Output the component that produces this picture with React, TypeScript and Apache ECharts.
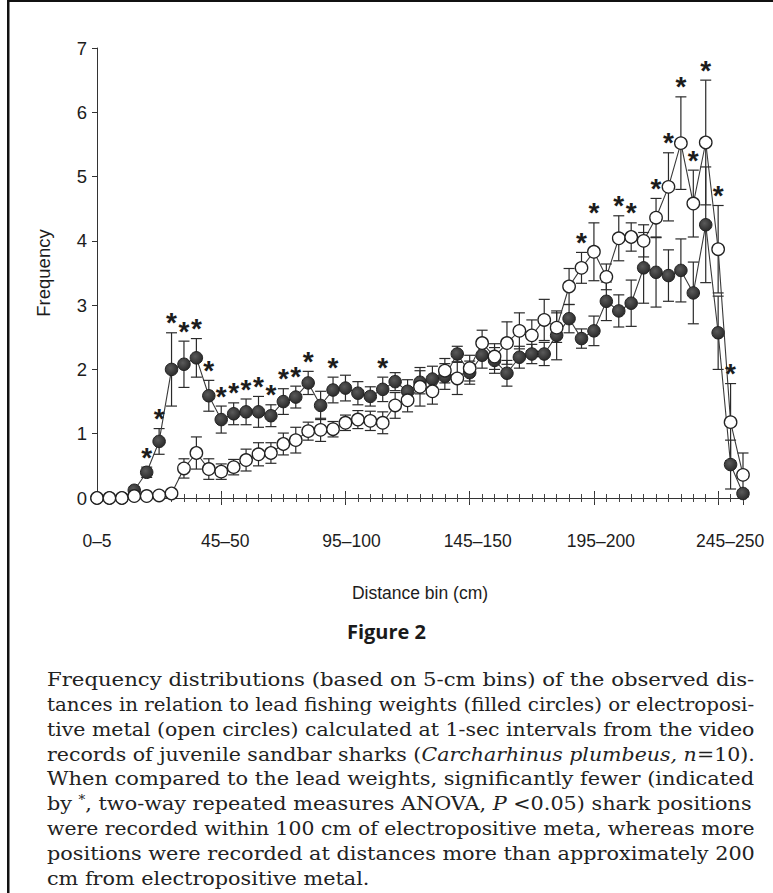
import React, { useEffect, useRef } from "react";
import * as echarts from "echarts";

// 5-cm distance bins, indexed 0 (0–5 cm) … 52 (260–265 cm)
const xTickValues = [0, 10, 20, 30, 40, 50];
const xTickLabels = ["0–5", "45–50", "95–100", "145–150", "195–200", "245–250"];

// Mean frequency per bin: lead fishing weights (filled circles)
const leadMean = [
  0, 0, 0, 0.12, 0.4, 0.88, 2.0, 2.08, 2.18, 1.59,
  1.22, 1.31, 1.34, 1.34, 1.28, 1.5, 1.57, 1.79, 1.44, 1.68,
  1.71, 1.63, 1.58, 1.69, 1.81, 1.66, 1.8, 1.85, 1.89, 2.24,
  1.95, 2.22, 2.14, 1.94, 2.19, 2.24, 2.24, 2.53, 2.79, 2.48,
  2.6, 3.06, 2.91, 3.03, 3.58, 3.51, 3.46, 3.54, 3.19, 4.25,
  2.57, 0.52, 0.07,
];
const leadSE = [
  0, 0, 0, 0.05, 0.08, 0.2, 0.57, 0.36, 0.3, 0.24,
  0.21, 0.17, 0.2, 0.24, 0.17, 0.2, 0.17, 0.18, 0.22, 0.2,
  0.2, 0.18, 0.15, 0.19, 0.14, 0.18, 0.18, 0.2, 0.2, 0.12,
  0.18, 0.2, 0.2, 0.2, 0.17, 0.15, 0.18, 0.38, 0.22, 0.15,
  0.23, 0.3, 0.25, 0.36, 0.55, 0.54, 0.4, 0.49, 0.48, 0.9,
  0.57, 0.38, 0.05,
];

// Mean frequency per bin: electropositive metal (open circles)
const metalMean = [
  0, 0, 0, 0.03, 0.03, 0.04, 0.07, 0.46, 0.7, 0.45,
  0.41, 0.48, 0.59, 0.68, 0.7, 0.84, 0.9, 1.04, 1.06, 1.07,
  1.17, 1.22, 1.2, 1.17, 1.44, 1.52, 1.73, 1.66, 1.98, 1.86,
  2.02, 2.41, 2.2, 2.41, 2.6, 2.53, 2.77, 2.65, 3.29, 3.58,
  3.83, 3.44, 4.04, 4.06, 4.0, 4.36, 4.84, 5.52, 4.58, 5.53,
  3.87, 1.18, 0.36,
];
const metalSE = [
  0, 0, 0, 0.02, 0.02, 0.03, 0.04, 0.15, 0.25, 0.16,
  0.12, 0.12, 0.17, 0.18, 0.16, 0.17, 0.2, 0.14, 0.18, 0.12,
  0.12, 0.14, 0.15, 0.17, 0.2, 0.18, 0.3, 0.2, 0.19, 0.25,
  0.2, 0.2, 0.2, 0.33, 0.28, 0.24, 0.32, 0.23, 0.28, 0.24,
  0.45, 0.2, 0.35, 0.22, 0.25, 0.3, 0.53, 0.72, 0.52, 0.97,
  0.68, 0.6, 0.34,
];

// Bins with a significant difference (marked *)
const significantBins = [
  4, 5, 6, 7, 8, 9, 10, 11, 12, 13, 14, 15, 16, 17, 19, 23,
  39, 40, 42, 43, 45, 46, 47, 48, 49, 50, 51,
];

const yTicks = { min: 0, max: 7, interval: 1 };

const INK = "#1c1c1c";
const SANS = "Liberation Sans, Arial, sans-serif";
const SERIF_FAMILY = "DejaVu Serif";
const CAPTION_SIZE = 18.5;

// Rightward nudge (px) of each bin label relative to its major tick
const labelNudge = [0, 4, 6, 8, 7, 12];

const captionLines = [
  "Frequency distributions (based on 5-cm bins) of the observed dis-",
  "tances in relation to lead fishing weights (filled circles) or electroposi-",
  "tive metal (open circles) calculated at 1-sec intervals from the video",
  "records of juvenile sandbar sharks ({i|Carcharhinus plumbeus, n}=10).",
  "When compared to the lead weights, significantly fewer (indicated",
  "by {sup|*}, two-way repeated measures ANOVA, {i|P} <0.05) shark positions",
  "were recorded within 100 cm of electropositive meta, whereas more",
  "positions were recorded at distances more than approximately 200",
  "cm from electropositive metal.",
];

function errorBarItem(params: any, api: any) {
  const x = api.value(0);
  const m = api.value(1);
  const se = api.value(2);
  if (!(se > 0)) return { type: "group", children: [] };
  const top = api.coord([x, m + se]);
  const bot = api.coord([x, Math.max(0, m - se)]);
  const hw = 5.5;
  const st = { stroke: "#2a2a2a", lineWidth: 1.2 };
  return {
    type: "group",
    children: [
      { type: "line", shape: { x1: top[0], y1: top[1], x2: bot[0], y2: bot[1] }, style: st },
      { type: "line", shape: { x1: top[0] - hw, y1: top[1], x2: top[0] + hw, y2: top[1] }, style: st },
      { type: "line", shape: { x1: bot[0] - hw, y1: bot[1], x2: bot[0] + hw, y2: bot[1] }, style: st },
    ],
  };
}

function starItem(params: any, api: any) {
  const p = api.coord([api.value(0), api.value(1)]);
  return {
    type: "text",
    x: p[0],
    y: p[1] - 24,
    style: {
      text: "*",
      fill: INK,
      font: `bold 28px ${SANS}`,
      textAlign: "center",
      textVerticalAlign: "top",
    },
  };
}

export default function App() {
  const ref = useRef<HTMLDivElement>(null);

  useEffect(() => {
    if (!ref.current) return;
    const chart = echarts.init(ref.current, null, { renderer: "svg" });

    const gridLeft = 97;
    const gridTop = 48;
    const gridRight = 30;
    const gridBottom = 395;

    const baseX = {
      type: "value" as const,
      min: 0,
      max: 52,
      gridIndex: 0,
      position: "bottom" as const,
      splitLine: { show: false },
    };

    const leadPts = leadMean.map((v, i) => [i, v]);
    const metalPts = metalMean.map((v, i) => [i, v]);
    const leadBars = leadMean.map((v, i) => [i, v, leadSE[i]]);
    const metalBars = metalMean.map((v, i) => [i, v, metalSE[i]]);
    const stars = significantBins.map((i) => [
      i,
      Math.max(leadMean[i] + leadSE[i], metalMean[i] + metalSE[i]),
    ]);

    // Caption: each line except the last is stretched to the full column width
    const colLeft = 47;
    const colWidth = 708;
    const ctx = document.createElement("canvas").getContext("2d");
    const measure = (t: string) => {
      const plain = t.replace(/\{(\w+)\|([^}]*)\}/g, "$2");
      if (!ctx) return colWidth;
      ctx.font = `${CAPTION_SIZE}px "${SERIF_FAMILY}"`;
      return ctx.measureText(plain).width;
    };
    const scales = captionLines.map((t) => colWidth / measure(t));
    const fullScales = scales.slice(0, -1).sort((a, b) => a - b);
    const medianScale = fullScales[Math.floor(fullScales.length / 2)];
    const caption = captionLines.map((t, k) => ({
      type: "text",
      x: colLeft,
      y: 680 + k * 24.8,
      scaleX: k === captionLines.length - 1 ? medianScale : scales[k],
      style: {
        text: t,
        fill: "#222",
        font: `${CAPTION_SIZE}px "${SERIF_FAMILY}", serif`,
        textVerticalAlign: "middle",
        rich: {
          i: { fontFamily: SERIF_FAMILY, fontSize: CAPTION_SIZE, fontStyle: "italic", fill: "#222" },
          sup: { fontFamily: SERIF_FAMILY, fontSize: 12, fill: "#222", padding: [0, 0, 9, 0] },
        },
      },
    }));

    const richLabels: Record<string, any> = {};
    labelNudge.forEach((n, k) => {
      richLabels["l" + k] = {
        fontFamily: SANS,
        fontSize: 17.5,
        color: INK,
        padding: [0, 0, 0, 2 * n],
      };
    });

    // Filled markers carry a soft shading, darker toward the rim
    const leadFill = new echarts.graphic.RadialGradient(0.4, 0.38, 0.7, [
      { offset: 0, color: "#5a5a5a" },
      { offset: 1, color: "#262626" },
    ]);

    chart.setOption({
      animation: false,
      backgroundColor: "#ffffff",
      grid: { left: gridLeft, top: gridTop, right: gridRight, bottom: gridBottom },
      xAxis: [
        {
          ...baseX,
          interval: 10,
          name: "Distance bin (cm)",
          nameLocation: "middle",
          nameGap: 86,
          nameTextStyle: { fontFamily: SANS, fontSize: 17.5, color: INK },
          axisLine: { show: true, lineStyle: { color: "#333", width: 1 } },
          axisTick: { show: true, length: 7, lineStyle: { color: "#333", width: 1 } },
          axisLabel: {
            show: true,
            margin: 34,
            fontFamily: SANS,
            fontSize: 17.5,
            color: INK,
            rich: richLabels,
            formatter: (v: number) => {
              const k = xTickValues.indexOf(v);
              return k >= 0 ? `{l${k}|${xTickLabels[k]}}` : "";
            },
          },
        },
        {
          ...baseX,
          interval: 10,
          axisLine: { show: false },
          axisTick: { show: true, inside: true, length: 7, lineStyle: { color: "#333", width: 1 } },
          axisLabel: { show: false },
        },
        {
          ...baseX,
          interval: 1,
          axisLine: { show: false },
          axisTick: { show: true, length: 4, lineStyle: { color: "#444", width: 1 } },
          axisLabel: { show: false },
        },
        {
          ...baseX,
          interval: 1,
          axisLine: { show: false },
          axisTick: { show: true, inside: true, length: 4, lineStyle: { color: "#444", width: 1 } },
          axisLabel: { show: false },
        },
      ],
      yAxis: {
        type: "value",
        ...yTicks,
        name: "Frequency",
        nameLocation: "middle",
        nameGap: 44,
        nameTextStyle: { fontFamily: SANS, fontSize: 18.5, color: INK },
        splitLine: { show: false },
        axisLine: { show: true, lineStyle: { color: "#333", width: 1 } },
        axisTick: { show: true, length: 5, lineStyle: { color: "#333", width: 1 } },
        axisLabel: { margin: 10, fontFamily: SANS, fontSize: 18.5, color: INK },
      },
      graphic: [
        { type: "rect", shape: { x: 7, y: 0, width: 2.5, height: 893 }, style: { fill: "#111" } },
        { type: "rect", shape: { x: 7, y: 0, width: 766, height: 2 }, style: { fill: "#111" } },
        {
          type: "text",
          left: "center",
          top: 621,
          style: { text: "Figure 2", fill: "#1a1a1a", font: `bold 20px Open Sans, ${SANS}` },
        },
        ...caption,
      ],
      series: [
        {
          type: "custom",
          name: "lead SE",
          xAxisIndex: 0,
          renderItem: errorBarItem,
          data: leadBars,
          z: 2,
          silent: true,
          clip: false,
        },
        {
          type: "custom",
          name: "metal SE",
          xAxisIndex: 0,
          renderItem: errorBarItem,
          data: metalBars,
          z: 2,
          silent: true,
          clip: false,
        },
        {
          type: "line",
          name: "Lead weights",
          xAxisIndex: 0,
          data: leadPts,
          symbol: "circle",
          symbolSize: 12.5,
          showAllSymbol: true,
          lineStyle: { color: "#3a3a3a", width: 1.1 },
          itemStyle: { color: leadFill, borderColor: "#222", borderWidth: 1 },
          z: 4,
        },
        {
          type: "line",
          name: "Electropositive metal",
          xAxisIndex: 0,
          data: metalPts,
          symbol: "circle",
          symbolSize: 12.5,
          showAllSymbol: true,
          lineStyle: { color: "#3a3a3a", width: 1.1 },
          itemStyle: { color: "#ffffff", borderColor: "#222", borderWidth: 1.3 },
          z: 5,
        },
        {
          type: "custom",
          name: "significance",
          xAxisIndex: 0,
          renderItem: starItem,
          data: stars,
          z: 6,
          silent: true,
          clip: false,
        },
      ],
    });

    return () => chart.dispose();
  }, []);

  return (
    <div
      ref={ref}
      style={{ position: "absolute", left: 0, top: 0, width: 773, height: 893, background: "#fff" }}
    />
  );
}
